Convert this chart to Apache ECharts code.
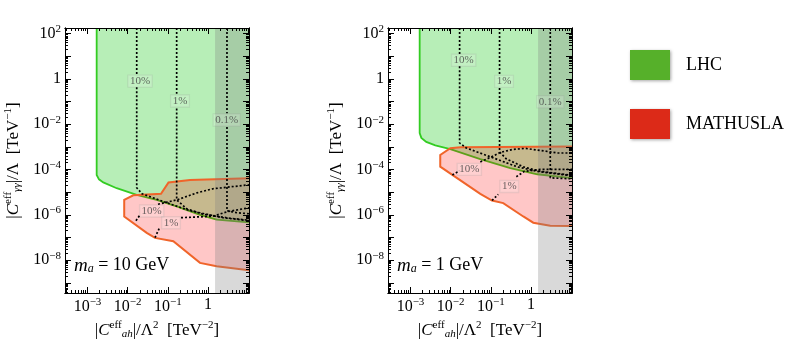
<!DOCTYPE html>
<html>
<head>
<meta charset="utf-8">
<script src="https://cdn.jsdelivr.net/npm/echarts@6/dist/echarts.min.js"></script>
<style>
  html, body { margin: 0; background: #fff; }
  #chart { width: 789px; height: 356px; }
</style>
</head>
<body>
<div id="chart"></div>
<script>
const SERIF = "'Liberation Serif', 'DejaVu Serif', serif";

// axis ranges (log10: x -3.56..1.02, y -9.45..2.25)
const X_MIN = 2.75e-4, X_MAX = 10.5;
const Y_MIN = 3.55e-10, Y_MAX = 178;
const GRAY_FROM = 1.5;

const xLabelValues = [1e-3, 1e-2, 1e-1, 1];
const yLabelValues = [1e-8, 1e-6, 1e-4, 1e-2, 1, 1e2];

// m_a = 10 GeV panel
const lhc10 = [[1.69e-3, Y_MAX], [1.69e-3, 5.8e-5], [1.93e-3, 3.7e-5], [2.47e-3, 2.7e-5], [5.33e-3, 1.5e-5],
  [0.0168, 7.7e-6], [0.0528, 4.6e-6], [0.166, 2.35e-6], [0.632, 1.0e-6], [1.64, 6.1e-7], [X_MAX, 4.7e-7]];
const mat10 = [[X_MAX, 4.1e-5], [0.356, 3.5e-5], [0.104, 2.7e-5], [0.0676, 8.5e-6], [0.0138, 7.3e-6],
  [8.2e-3, 4.6e-6], [8.2e-3, 8.5e-7], [0.0298, 1.6e-7], [0.0479, 9.6e-8], [0.137, 6.8e-8],
  [0.632, 7.6e-9], [1.64, 5.4e-9], [X_MAX, 3.6e-9]];
const br10 = [
  [[0.0168, Y_MAX], [0.0168, 1.5]],
  [[0.0168, 0.43], [0.0168, 1.57e-5], [0.0228, 8.5e-6], [0.0938, 3.42e-6], [0.356, 1.52e-6], [2.36, 7.5e-7], [X_MAX, 5.5e-7]],
  [[0.166, Y_MAX], [0.166, 0.22]],
  [[0.166, 0.05], [0.166, 4.6e-6], [0.295, 1.86e-6], [0.75, 1.07e-6], [3.53, 7.1e-7], [X_MAX, 5.8e-7]],
  [[2.97, Y_MAX], [2.97, 0.031]],
  [[2.97, 7.6e-3], [2.97, 1.52e-6], [5.27, 1.24e-6], [X_MAX, 1.12e-6]],
  [[0.0161, 5.5e-7], [0.0203, 1.0e-6]],
  [[0.0569, 2.95e-6], [0.169, 4.6e-6], [0.532, 9.4e-6], [1.33, 1.42e-5], [X_MAX, 2.12e-5]],
  [[0.0479, 9.9e-8], [0.0638, 3.0e-7]],
  [[0.213, 7.5e-7], [1.33, 8.7e-7], [2.97, 1.37e-6], [X_MAX, 2.06e-6]],
];
const brLabels10 = [['10%', 0.0203, 0.8], ['1%', 0.201, 0.106], ['0.1%', 2.92, 0.0154],
  ['10%', 0.0396, 1.48e-6], ['1%', 0.12, 4.5e-7]];

// m_a = 1 GeV panel
const lhc1 = [[1.69e-3, Y_MAX], [1.69e-3, 4.1e-3], [1.86e-3, 2.5e-3], [2.47e-3, 1.66e-3], [4.14e-3, 1.16e-3],
  [9.8e-3, 7.9e-4], [0.0547, 2.9e-4], [0.305, 1.15e-4], [1.44, 6.2e-5], [X_MAX, 4.2e-5]];
const mat1 = [[X_MAX, 1.05e-3], [0.0174, 9.7e-4], [9.8e-3, 8.7e-4], [5.5e-3, 4.4e-4], [5.5e-3, 1.35e-4],
  [0.011, 5.8e-5], [0.0547, 8.5e-6], [0.107, 4.3e-6], [0.204, 3.3e-6], [0.643, 8.5e-7],
  [1.14, 4.5e-7], [3.02, 3.3e-7], [X_MAX, 3.2e-7]];
const br1 = [
  [[0.0167, Y_MAX], [0.0167, 12.4]],
  [[0.0167, 3.66], [0.0167, 1.5e-3], [0.0245, 9.0e-4], [0.115, 3.27e-4], [0.456, 1.32e-4], [1.44, 8.3e-5], [X_MAX, 5.3e-5]],
  [[0.165, Y_MAX], [0.165, 1.47]],
  [[0.165, 0.395], [0.165, 6.0e-4], [0.243, 2.96e-4], [0.643, 1.32e-4], [1.71, 8.3e-5], [X_MAX, 5.6e-5]],
  [[3.02, Y_MAX], [3.02, 0.175]],
  [[3.02, 0.052], [3.02, 4.3e-5], [X_MAX, 3.9e-5]],
  [[0.011, 5.8e-5], [0.0164, 8.8e-5]],
  [[0.0547, 2.18e-4], [0.097, 3.44e-4], [0.172, 5.7e-4], [0.342, 7.7e-4], [0.721, 8.6e-4], [1.71, 7.0e-4], [4.52, 5.4e-4], [X_MAX, 5.4e-4]],
  [[0.107, 4.3e-6], [0.153, 8.1e-6]],
  [[0.431, 4.8e-5], [0.681, 8.3e-5], [1.71, 1.02e-4], [X_MAX, 1.02e-4]],
];
const brLabels1 = [['10%', 0.021, 6.7], ['1%', 0.213, 0.78], ['0.1%', 3.02, 0.098],
  ['10%', 0.0291, 1.02e-4], ['1%', 0.288, 1.79e-5]];

function decadeTicks(lo, hi, mults) {
  const out = [];
  for (let e = lo; e <= hi; e++) for (const m of mults) out.push(+(m * Math.pow(10, e)).toPrecision(3));
  return out;
}
const xMajorTicks = decadeTicks(-4, 1, [1]);
const xMinorTicks = decadeTicks(-4, 1, [2, 3, 4, 5, 6, 7, 8, 9]);
const yMajorTicks = decadeTicks(-10, 2, [1]);
const yMinorTicks = decadeTicks(-10, 2, [2, 3, 4, 5, 6, 7, 8, 9]);

const tickRich = {
  b: { fontFamily: SERIF, fontSize: 16, color: '#000' },
  s: { fontFamily: SERIF, fontSize: 11, color: '#000', padding: [0, 0, 9, 0] },
};
function powLabel(v) {
  const e = Math.round(Math.log10(v));
  if (e === 0) return '{b|1}';
  return '{b|10}{s|' + (e < 0 ? '\u2212' : '') + Math.abs(e) + '}';
}

const nameRich = {
  n: { fontFamily: SERIF, fontSize: 17, color: '#000' },
  i: { fontFamily: SERIF, fontSize: 17, fontStyle: 'italic', color: '#000' },
  sup: { fontFamily: SERIF, fontSize: 11, color: '#000', padding: [0, 0, 10, 0] },
  sub: { fontFamily: SERIF, fontSize: 11, fontStyle: 'italic', color: '#000', padding: [8, 0, 0, 0] },
};
const yName = '{n||}{i|C}{sup|eff}{sub|γγ}{n||/Λ  [TeV}{sup|\u22121}{n|]}';
const xName = '{n||}{i|C}{sup|eff}{sub|ah}{n||/Λ}{sup|2}{n|  [TeV}{sup|\u22122}{n|]}';

function makeAxes(dim, gridIndex) {
  const isX = dim === 'x';
  const common = {
    type: 'log', logBase: 10, gridIndex, z: 5,
    min: isX ? X_MIN : Y_MIN, max: isX ? X_MAX : Y_MAX,
    splitLine: { show: false },
    axisLine: { lineStyle: { color: '#000', width: 1 } },
  };
  const sides = isX ? ['bottom', 'top'] : ['left', 'right'];
  const axes = [];
  sides.forEach((pos, k) => {
    [isX ? xMajorTicks : yMajorTicks, isX ? xMinorTicks : yMinorTicks].forEach((vals, m) => {
      const a = {
        ...common, position: pos,
        axisTick: { inside: true, length: m ? 3 : 6, customValues: vals, lineStyle: { color: '#000', width: 1 } },
        axisLabel: { show: false },
      };
      if (k === 0 && m === 0) {
        a.axisLabel = {
          show: true, customValues: isX ? xLabelValues : yLabelValues,
          formatter: powLabel, rich: tickRich, margin: 4,
        };
        a.name = isX ? xName : yName;
        a.nameLocation = 'middle';
        a.nameGap = isX ? 27 : 41;
        if (!isX) a.nameRotate = 90;
        a.nameTextStyle = { rich: nameRich };
      }
      axes.push(a);
    });
  });
  return axes;
}

function regionSeries(name, boundary, extra, fill, stroke, lineWidth, color, gi) {
  const poly = boundary.concat(extra);
  return {
    type: 'custom', name, xAxisIndex: 4 * gi, yAxisIndex: 4 * gi, clip: true, silent: true,
    itemStyle: { color },
    data: boundary, encode: { x: 0, y: 1 },
    renderItem(params, api) {
      if (params.dataIndex !== 0) return null;
      return {
        type: 'group', children: [
          { type: 'polygon', shape: { points: poly.map(d => api.coord(d)) }, style: { fill, stroke: null } },
          { type: 'polyline', shape: { points: boundary.map(d => api.coord(d)) }, style: { fill: null, stroke, lineWidth } },
        ],
      };
    },
  };
}

function grayBand(gi) {
  const corners = [[GRAY_FROM, Y_MIN], [X_MAX, Y_MAX]];
  return {
    type: 'custom', xAxisIndex: 4 * gi, yAxisIndex: 4 * gi, clip: true, silent: true,
    data: corners, encode: { x: 0, y: 1 },
    renderItem(params, api) {
      if (params.dataIndex !== 0) return null;
      const a = api.coord(corners[0]), b = api.coord(corners[1]);
      return { type: 'rect', shape: { x: a[0], y: b[1], width: b[0] - a[0], height: a[1] - b[1] }, style: { fill: 'rgba(128,128,128,0.3)' } };
    },
  };
}

function panelSeries(gi, lhc, mat, br, brLabels) {
  const list = [
    regionSeries('LHC', lhc, [[X_MAX, Y_MAX]], 'rgba(50,205,50,0.35)', '#33cc22', 1.8, '#56b02a', gi),
    regionSeries('MATHUSLA', mat, [], 'rgba(255,0,0,0.22)', '#f0642a', 2, '#dc2a18', gi),
  ];
  br.forEach(seg => list.push({
    type: 'line', data: seg, xAxisIndex: 4 * gi, yAxisIndex: 4 * gi, silent: true,
    symbol: 'none', lineStyle: { color: '#000', width: 1.7, type: [2, 2] },
  }));
  list.push({
    type: 'scatter', xAxisIndex: 4 * gi, yAxisIndex: 4 * gi, silent: true, symbolSize: 1,
    itemStyle: { color: 'transparent' },
    data: brLabels.map(([t, x, y]) => ({ name: t, value: [x, y] })),
    label: {
      show: true, position: 'inside', formatter: '{b}', fontFamily: SERIF, fontSize: 11, color: '#444',
      backgroundColor: 'rgba(255,255,255,0.2)', borderColor: 'rgba(150,150,150,0.25)', borderWidth: 0.7, padding: [1, 2, 0, 2],
    },
  });
  list.push(grayBand(gi));
  return list;
}

const maRich = {
  n: { fontFamily: SERIF, fontSize: 18, color: '#000' },
  i: { fontFamily: SERIF, fontSize: 19, fontStyle: 'italic', color: '#000' },
  sub: { fontFamily: SERIF, fontSize: 12, fontStyle: 'italic', color: '#000', padding: [7, 0, 0, 0] },
};

const chart = echarts.init(document.getElementById('chart'), null, { renderer: 'canvas' });
chart.setOption({
  animation: false,
  backgroundColor: '#fff',
  grid: [
    { left: 65, top: 28, width: 184, height: 265 },
    { left: 388, top: 28, width: 184, height: 265 },
  ],
  xAxis: [...makeAxes('x', 0), ...makeAxes('x', 1)],
  yAxis: [...makeAxes('y', 0), ...makeAxes('y', 1)],
  legend: {
    orient: 'vertical', left: 625, top: 45, itemWidth: 40, itemHeight: 30, itemGap: 29,
    icon: 'rect', selectedMode: false,
    textStyle: { fontFamily: SERIF, fontSize: 18, color: '#000', padding: [0, 0, 0, 11] },
    data: [
      { name: 'LHC', itemStyle: { color: '#56b02a', shadowBlur: 3, shadowOffsetX: 1, shadowOffsetY: 1, shadowColor: 'rgba(0,0,0,0.35)' } },
      { name: 'MATHUSLA', itemStyle: { color: '#dc2a18', shadowBlur: 3, shadowOffsetX: 1, shadowOffsetY: 1, shadowColor: 'rgba(0,0,0,0.35)' } },
    ],
  },
  graphic: [
    { type: 'text', left: 74, top: 256, style: { text: '{i|m}{sub|a}{n| = 10 GeV}', rich: maRich } },
    { type: 'text', left: 397, top: 256, style: { text: '{i|m}{sub|a}{n| = 1 GeV}', rich: maRich } },
  ],
  series: [
    ...panelSeries(0, lhc10, mat10, br10, brLabels10),
    ...panelSeries(1, lhc1, mat1, br1, brLabels1),
  ],
});
</script>
</body>
</html>
